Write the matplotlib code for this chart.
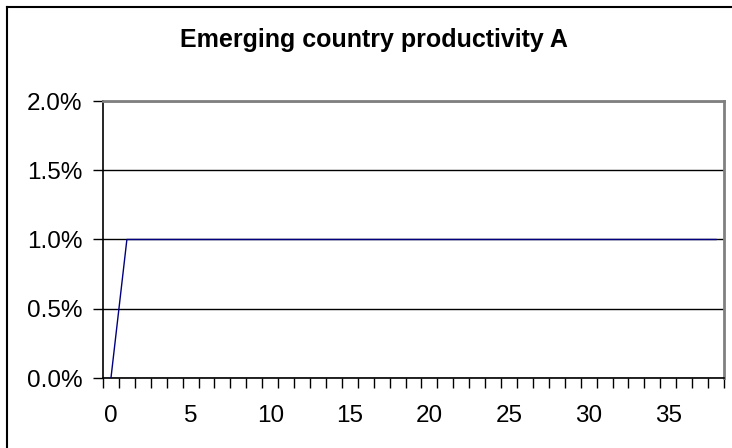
import numpy as np
import matplotlib.pyplot as plt
from matplotlib.lines import Line2D
from matplotlib.ticker import FuncFormatter

plt.rcParams['font.family'] = ['Liberation Sans', 'DejaVu Sans']

# productivity growth by period
periods = np.arange(0, 39)
productivity = [0.0] + [0.01] * 38

fig = plt.figure(figsize=(7.32, 4.48), dpi=100)
ax = fig.add_axes([103 / 732, 70 / 448, 621 / 732, 277 / 448])

ax.plot(periods, productivity, color='#000080', lw=1.0, zorder=3)

ax.set_xlim(-0.5, 38.5)
ax.set_ylim(0, 0.02)

# y axis: percent labels with black gridlines
ax.set_yticks([0, 0.005, 0.01, 0.015, 0.02])
ax.yaxis.set_major_formatter(FuncFormatter(lambda v, p: f'{v * 100:.1f}%'))
ax.grid(axis='y', color='black', lw=1.0)
ax.set_axisbelow(True)

# x axis: category ticks between points, labels every 5
ax.set_xticks(np.arange(-0.5, 39, 1), minor=True)
ax.set_xticks(np.arange(0, 39, 5))
ax.tick_params(axis='x', which='major', length=0, pad=19.5, labelsize=17.5)
ax.tick_params(axis='x', which='minor', length=7.5, width=1.0, color='black')
ax.tick_params(axis='y', length=7, width=1.0, color='black', pad=8, labelsize=17.5)

for side in ('top', 'right'):
    ax.spines[side].set_color('#808080')
    ax.spines[side].set_linewidth(2.0)
for side in ('left', 'bottom'):
    ax.spines[side].set_color('black')
    ax.spines[side].set_linewidth(1.2)

fig.text(374 / 732, 1 - 47 / 448, 'Emerging country productivity A',
         ha='center', va='baseline', fontsize=18, fontweight='bold')

# chart frame
fig.add_artist(Line2D([7 / 732, 7 / 732], [0, 1 - 7 / 448], color='black', lw=1.5,
                      transform=fig.transFigure))
fig.add_artist(Line2D([7 / 732, 1], [1 - 7 / 448, 1 - 7 / 448], color='black', lw=1.5,
                      transform=fig.transFigure))

fig.savefig('out.png', dpi=100)
